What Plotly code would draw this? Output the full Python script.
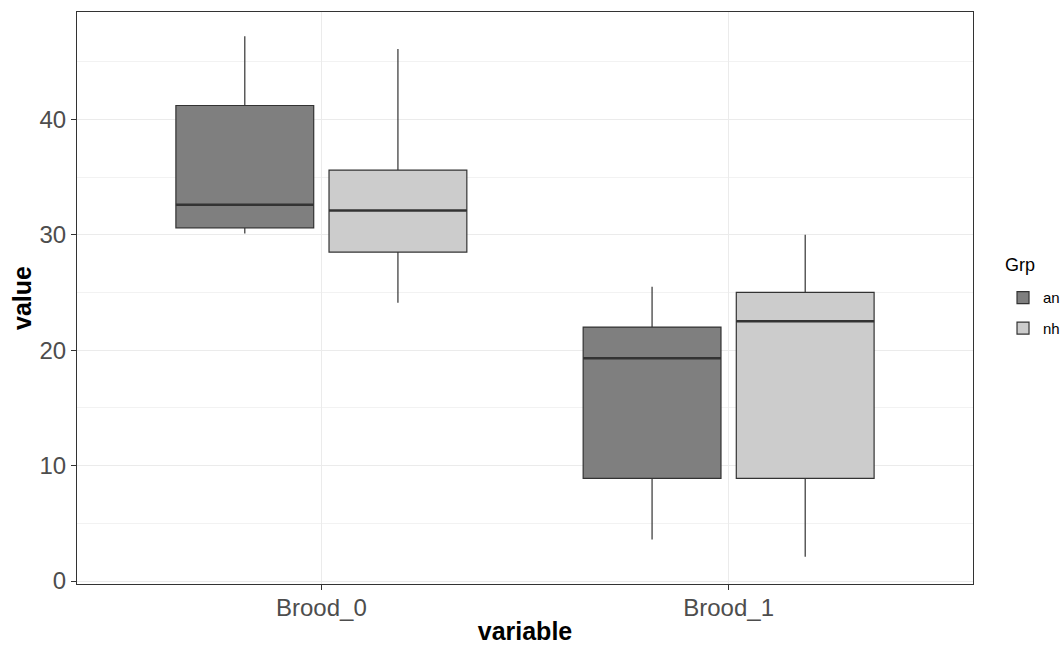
import plotly.graph_objects as go

categories = ["Brood_0", "Brood_1"]
groups = ["an", "nh"]
fills = {"an": "#7F7F7F", "nh": "#CCCCCC"}

# box statistics per group, one value per category
lower = {"an": [30.1, 3.6], "nh": [24.1, 2.1]}
q1 = {"an": [30.6, 8.9], "nh": [28.5, 8.9]}
median = {"an": [32.6, 19.3], "nh": [32.1, 22.5]}
q3 = {"an": [41.2, 22.0], "nh": [35.6, 25.0]}
upper = {"an": [47.2, 25.5], "nh": [46.1, 30.0]}

y_ticks = [0, 10, 20, 30, 40]
legend_title = "Grp"

FONT = "Liberation Sans, Arial, sans-serif"
LINE = "#333333"
BOXGAP = 0.248
GROUPGAP = 0.1

fig = go.Figure()
for g in groups:
    fig.add_trace(go.Box(
        name=g, x=categories, legendgroup=g,
        q1=q1[g], median=median[g], q3=q3[g],
        lowerfence=lower[g], upperfence=upper[g],
        fillcolor=fills[g],
        line=dict(color=LINE, width=1.2),
        whiskerwidth=0, boxpoints=False,
        hoverinfo="skip",
    ))

# thicker median lines as in ggplot
slot = (1 - BOXGAP) / len(groups)
half = slot * (1 - GROUPGAP) / 2
for j, g in enumerate(groups):
    for i, _ in enumerate(categories):
        c = i + (j - (len(groups) - 1) / 2) * slot
        fig.add_shape(type="line", xref="x", yref="y",
                      x0=c - half, x1=c + half, y0=median[g][i], y1=median[g][i],
                      line=dict(color=LINE, width=2.6))

fig.add_annotation(
    text=legend_title, xref="paper", yref="paper",
    x=1.0335, y=0.5577, xanchor="left", yanchor="middle",
    showarrow=False, font=dict(size=18, color="black"),
)

fig.update_layout(
    width=1064, height=645,
    margin=dict(l=77, r=91, t=12, b=61, autoexpand=False),
    paper_bgcolor="white", plot_bgcolor="white",
    boxmode="group", boxgap=BOXGAP, boxgroupgap=GROUPGAP,
    font=dict(family=FONT, color="#4D4D4D"),
    showlegend=True,
    legend=dict(
        font=dict(size=15, color="black"),
        x=1.0335, xanchor="left", y=0.474, yanchor="middle",
        tracegroupgap=8,
    ),
)
fig.update_xaxes(
    type="category", categoryorder="array", categoryarray=categories,
    range=[-0.6, 1.6], automargin=True,
    showgrid=True, gridcolor="#EBEBEB", gridwidth=1.2,
    showline=True, linecolor=LINE, linewidth=1.2, mirror=True,
    ticks="outside", ticklen=5, tickcolor=LINE, tickwidth=1.2,
    ticklabelstandoff=-3,
    tickfont=dict(size=24, color="#4D4D4D"),
    title=dict(text="<b>variable</b>", font=dict(size=25, color="black"), standoff=4),
    zeroline=False,
)
fig.update_yaxes(
    range=[-0.26, 49.3], automargin=False,
    tickvals=y_ticks,
    showgrid=True, gridcolor="#EBEBEB", gridwidth=1.2,
    minor=dict(dtick=5, tick0=5, showgrid=True, gridcolor="#F2F2F2", gridwidth=0.8),
    showline=True, linecolor=LINE, linewidth=1.2, mirror=True,
    ticks="outside", ticklen=5, tickcolor=LINE, tickwidth=1.2,
    tickfont=dict(size=24, color="#4D4D4D"),
    title=dict(text="<b>value</b>", font=dict(size=25, color="black"), standoff=0),
    zeroline=False,
)

fig.write_html("out.html")
